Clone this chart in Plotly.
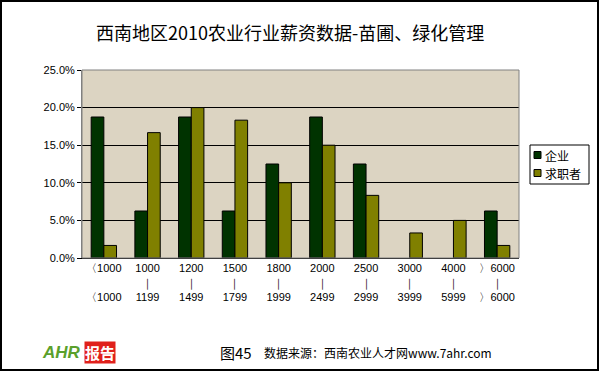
import plotly.graph_objects as go

categories = ["<1000", "1000-1199", "1200-1499", "1500-1799", "1800-1999",
              "2000-2499", "2500-2999", "3000-3999", "4000-5999", ">6000"]
tick_labels = ["〈1000<br> <br>〈1000", "1000<br>｜<br>1199", "1200<br>｜<br>1499",
               "1500<br>｜<br>1799", "1800<br>｜<br>1999", "2000<br>｜<br>2499",
               "2500<br>｜<br>2999", "3000<br>｜<br>3999", "4000<br>｜<br>5999",
               "〉6000<br>｜<br>〉6000"]
enterprise = [18.75, 6.25, 18.75, 6.25, 12.5, 18.75, 12.5, 0, 0, 6.25]
seekers = [1.67, 16.67, 20.0, 18.33, 10.0, 15.0, 8.33, 3.33, 5.0, 1.67]
series_names = ["企业", "求职者"]
series_colors = ["#003300", "#808000"]

L, R, T, B = 82, 519, 70, 258
W, H = 600, 372
pw, ph = R - L, B - T

def px(x):
    return (x - L) / pw

def py(y):
    return (B - y) / ph

font = "Noto Sans CJK SC"

fig = go.Figure()
for name, vals, col in zip(series_names, [enterprise, seekers], series_colors):
    fig.add_trace(go.Bar(x=categories, y=vals, name=name,
                         marker=dict(color=col,
                                     line=dict(color="black",
                                               width=[1 if v > 0 else 0 for v in vals]))))

shapes = [
    dict(type="rect", xref="paper", yref="paper", x0=0, x1=1, y0=0, y1=1,
         line=dict(color="#808080", width=1)),
    dict(type="rect", xref="paper", yref="paper",
         x0=px(1), x1=px(598), y0=py(1), y1=py(370),
         line=dict(color="black", width=2)),
    dict(type="rect", xref="paper", yref="paper",
         x0=px(530), x1=px(589), y0=py(145), y1=py(184),
         line=dict(color="black", width=1), fillcolor="white"),
]
annotations = [
    dict(text="西南地区2010农业行业薪资数据-苗圃、绿化管理", xref="paper", yref="paper",
         x=px(290), y=py(32), yanchor="middle", showarrow=False,
         font=dict(size=18, family=font)),
    dict(text="图45", xref="paper", yref="paper", x=px(218), y=py(352),
         xanchor="left", yanchor="middle", showarrow=False,
         font=dict(size=15, family=font)),
    dict(text="数据来源：西南农业人才网www.7ahr.com", xref="paper", yref="paper",
         x=px(262), y=py(352), xanchor="left", yanchor="middle", showarrow=False,
         font=dict(size=12, family=font)),
    dict(text="<b><i>AHR</i></b>", xref="paper", yref="paper", x=px(40), y=py(352),
         xanchor="left", yanchor="middle", showarrow=False,
         font=dict(size=17, color="#5AA02C", family="Liberation Sans")),
    dict(text="<b>报告</b>", xref="paper", yref="paper", x=px(84), y=py(352),
         xanchor="left", yanchor="middle", showarrow=False, bgcolor="#E0201B",
         font=dict(size=15, color="white", family=font), borderpad=0),
]
for i, (n, c) in enumerate(zip(series_names, series_colors)):
    yc = 155 + i * 18
    shapes.append(dict(type="rect", xref="paper", yref="paper",
                       x0=px(534), x1=px(541), y0=py(yc - 3.5), y1=py(yc + 3.5),
                       line=dict(color="black", width=1), fillcolor=c))
    annotations.append(dict(text=n, xref="paper", yref="paper", x=px(544), y=py(yc),
                            xanchor="left", yanchor="middle", showarrow=False,
                            font=dict(size=12, family=font), borderpad=0))

fig.update_layout(
    width=W, height=H,
    margin=dict(l=L, r=W - R, t=T, b=H - B, autoexpand=False),
    paper_bgcolor="white",
    plot_bgcolor="#DCD4C2",
    barmode="group", bargap=0.42, bargroupgap=0,
    font=dict(family=font, size=11, color="black"),
    showlegend=False,
    xaxis=dict(tickmode="array", tickvals=categories, ticktext=tick_labels,
               showline=True, linecolor="black", linewidth=1,
               ticks="", tickfont=dict(size=11, family="Liberation Sans"), showgrid=False),
    yaxis=dict(range=[0, 25], dtick=5, tickformat=".1f", ticksuffix="%",
               showline=True, linecolor="#808080", linewidth=1,
               showgrid=True, gridcolor="black", gridwidth=1,
               ticks="outside", ticklen=4, tickcolor="black",
               tickfont=dict(size=11, family="Liberation Sans"), zeroline=False),
    shapes=shapes,
    annotations=annotations,
)

fig.write_html("out.html", config={"displayModeBar": False},
               post_script="document.body.style.margin='0';document.body.style.overflow='hidden';")
